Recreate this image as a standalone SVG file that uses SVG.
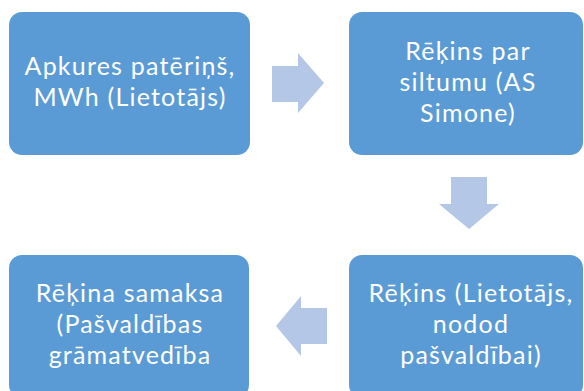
<svg xmlns="http://www.w3.org/2000/svg" width="584" height="391" viewBox="0 0 584 391">
<style>
.box{fill:#5B9BD5}
.arr{fill:#B4C7E7}
.t{font-family:Lato,"Open Sans",sans-serif;font-size:25px;letter-spacing:1.2px;fill:#FFFFFF;text-anchor:middle}
</style>
<rect width="584" height="391" fill="#FFFFFF"/>
<g id="connectors">
<polygon class="arr" points="272,66 298,66 298,53 324,83 298,113 298,102 272,102"/>
<polygon class="arr" points="451,177 487,177 487,204 499,204 469,229 439,204 451,204"/>
<polygon class="arr" points="327,308 301,308 301,296 276,326 301,356 301,344 327,344"/>
</g>
<g id="node1">
<rect class="box" x="9" y="12" width="241" height="143" rx="13"/>
<text class="t"><tspan x="130" y="75">Apkures patēriņš,</tspan><tspan x="130" y="106">MWh (Lietotājs)</tspan></text>
</g>
<g id="node2">
<rect class="box" x="349" y="12" width="234" height="143" rx="13"/>
<text class="t"><tspan x="468" y="60">Rēķins par</tspan><tspan x="468" y="91">siltumu (AS</tspan><tspan x="468" y="122">Simone)</tspan></text>
</g>
<g id="node3">
<rect class="box" x="349" y="255" width="234" height="143" rx="13"/>
<text class="t"><tspan x="471" y="302">Rēķins (Lietotājs,</tspan><tspan x="471" y="333">nodod</tspan><tspan x="471" y="364">pašvaldībai)</tspan></text>
</g>
<g id="node4">
<rect class="box" x="9" y="255" width="240" height="143" rx="13"/>
<text class="t"><tspan x="130" y="302">Rēķina samaksa</tspan><tspan x="130" y="333">(Pašvaldības</tspan><tspan x="130" y="364">grāmatvedība</tspan></text>
</g>
</svg>
